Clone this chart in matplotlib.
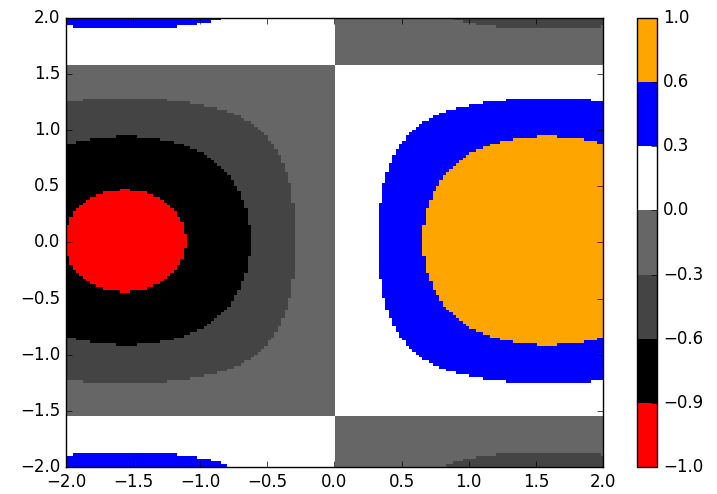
import numpy as np
import matplotlib
matplotlib.use("Agg")
import matplotlib.pyplot as plt
from matplotlib.colors import ListedColormap, BoundaryNorm

# level boundaries and the colour of each band (bottom to top)
levels = [-1.0, -0.9, -0.6, -0.3, 0.0, 0.3, 0.6, 1.0]
band_colors = ['red', 'black', '#444444', '#666666', 'white', 'blue', 'orange']

# field z = sin(x) * cos(y), sampled every 0.025 over [-2, 2)
# (tiny nudge so the x=0 column lands on the positive side of sin)
step = 0.025
x = np.arange(-2, 2, step) + 1e-9
y = np.arange(-2, 2, step)
X, Y = np.meshgrid(x, y)
Z = np.sin(X) * np.cos(Y)

plt.style.use('classic')
fig = plt.figure(figsize=(7.17, 4.94), dpi=100)
ax = fig.add_axes([0.092, 0.0547, 0.749, 0.909])
cax = fig.add_axes([0.888, 0.0547, 0.029, 0.909])

cmap = ListedColormap(band_colors)
norm = BoundaryNorm(levels, cmap.N)
im = ax.imshow(Z, cmap=cmap, norm=norm, origin='lower',
               extent=[-2, 2, -2, 2], interpolation='nearest', aspect='auto')
ax.set_xlim(-2, 2)
ax.set_ylim(-2, 2)
ax.set_xticks(np.arange(-2, 2.01, 0.5))
ax.set_yticks(np.arange(-2, 2.01, 0.5))
ax.tick_params(labelsize=12)

cb = fig.colorbar(im, cax=cax, ticks=levels)
cb.ax.set_yticklabels([('%.1f' % v).replace('-', '\u2212') for v in levels])
cb.ax.tick_params(labelsize=12)

fig.savefig('out.png', dpi=100)
